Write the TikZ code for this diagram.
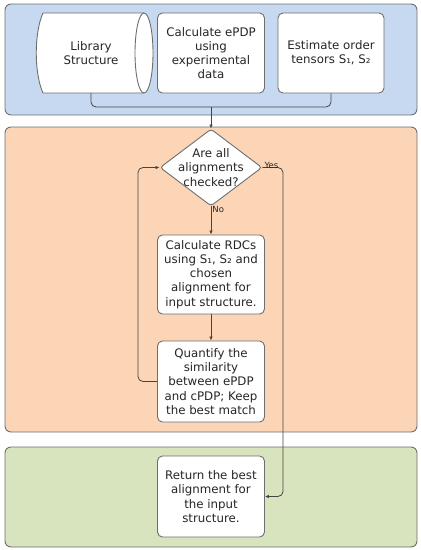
\documentclass[tikz,border=0pt]{standalone}
\usepackage{fontspec}
\setmainfont{DejaVu Sans}
\usetikzlibrary{shapes.geometric,arrows.meta}
\definecolor{bluefill}{HTML}{C6D9F1}
\definecolor{orangefill}{HTML}{FBD5B6}
\definecolor{greenfill}{HTML}{D7E4BD}
\definecolor{edge}{HTML}{6E6E6E}
\definecolor{line}{HTML}{4A4440}
\definecolor{ink}{HTML}{262626}
\tikzset{
  panel/.style={draw=edge, line width=0.9pt, rounded corners=6pt},
  box/.style={draw=edge, line width=0.9pt, fill=white, rounded corners=5pt, align=center,
    text=ink, minimum width=107pt, inner sep=2pt,
    font=\fontsize{11.8pt}{14.2pt}\selectfont},
  txt/.style={align=center, text=ink, font=\fontsize{11.8pt}{14.2pt}\selectfont},
  conn/.style={draw=line, line width=0.8pt},
  arr/.style={conn, -{Latex[length=4pt,width=3.5pt]}},
  small/.style={text=ink, font=\fontsize{8.5pt}{9.5pt}\selectfont, inner sep=1pt}
}
\begin{document}
\begin{tikzpicture}[x=1pt,y=-1pt]
\useasboundingbox (0,0) rectangle (421,550);
% panels
\draw[panel, fill=bluefill] (5,4) rectangle (417,115);
\draw[panel, fill=orangefill] (5,127) rectangle (417,432);
\draw[panel, fill=greenfill] (5,447) rectangle (417,547);
% library structure shape
\draw[draw=edge, line width=0.9pt, fill=white]
  (43,13) -- (144,13) arc[start angle=90, end angle=-90, x radius=9pt, y radius=40pt]
  -- (43,93) .. controls (34,73) and (34,33) .. (43,13) -- cycle;
\draw[draw=edge, line width=0.9pt] (144,13) arc[start angle=90, end angle=270, x radius=9pt, y radius=40pt];
\node[txt] (lib) at (91,53) {Library\\Structure};
\coordinate (libS) at (91,93);
% top boxes
\node[box, minimum height=80pt] (cal) at (211,53) {Calculate ePDP\\using\\experimental\\data};
\node[box, minimum width=106pt, minimum height=80pt] (est) at (331,53) {Estimate order\\tensors S₁, S₂};
% diamond
\node[diamond, draw=edge, line width=0.9pt, fill=white, rounded corners=3pt,
  minimum width=102pt, minimum height=77pt, inner sep=0pt] (dia) at (211,167.5) {};
\node[txt] (diatext) at (dia.center) {Are all\\alignments\\checked?};
% process boxes
\node[box, minimum height=79pt] (rdc) at (211,274.5) {Calculate RDCs\\using S₁, S₂ and\\chosen\\alignment for\\input structure.};
\node[box, minimum height=81pt] (qty) at (211,381.5) {Quantify the\\similarity\\between ePDP\\and cPDP; Keep\\the best match};
\node[box, minimum height=81pt] (ret) at (211,496.5) {Return the best\\alignment for\\the input\\structure.};
% connectors
\coordinate (j) at (211,107);
\draw[conn, rounded corners=5pt] (libS) |- (est.south |- j) -- (est.south);
\draw[arr] (j) -- (dia.north);
\draw[arr] (dia.south) -- (rdc.north) node[small, pos=0.1, anchor=west] (no) {No};
\draw[arr] (rdc.south) -- (qty.north);
\coordinate (lx) at (138,300);
\draw[arr, rounded corners=5pt] (qty.west) -| (lx) |- (dia.west);
\coordinate (yx) at (283,300);
\draw[arr, rounded corners=5pt] (dia.east) -| (yx) |- (ret.east);
\node[small, anchor=south west] (yes) at ([xshift=1pt,yshift=-2pt]dia.east) {Yes};
\end{tikzpicture}
\end{document}
